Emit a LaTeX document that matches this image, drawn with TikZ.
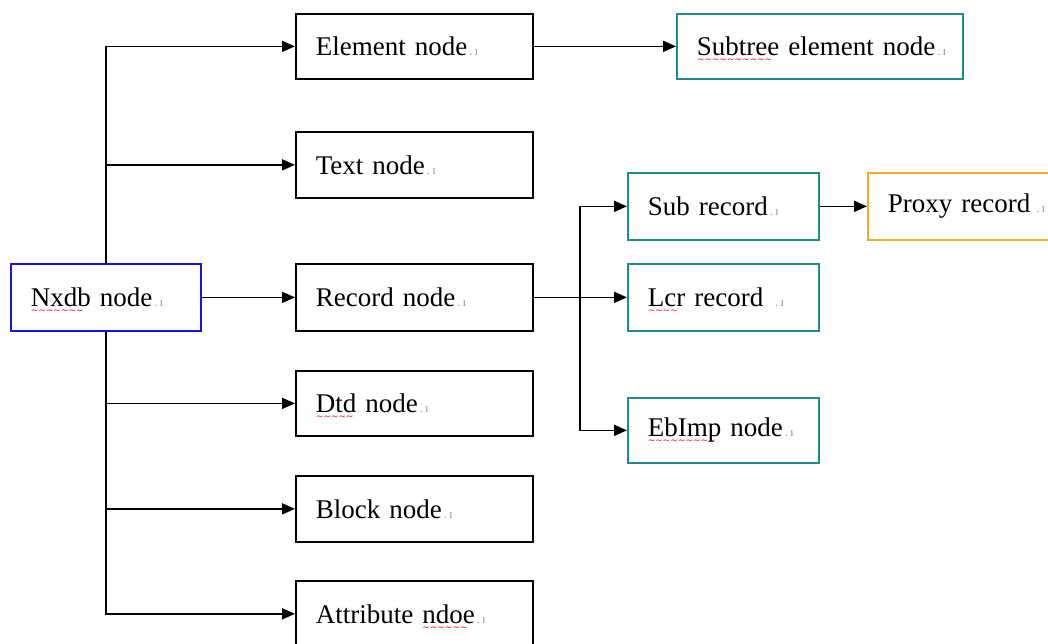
\documentclass[tikz,border=0pt]{standalone}
\usepackage{fontspec}
\setmainfont{Liberation Serif}
\newfontfamily\wavefont{DejaVu Sans}
\usetikzlibrary{arrows.meta}

\definecolor{nxblue}{RGB}{20,20,235}
\definecolor{subteal}{RGB}{30,140,140}
\definecolor{proxyorange}{RGB}{250,168,40}

\newcommand\labelfont{\fontsize{27}{32}\selectfont}
% pilcrow-like end-of-paragraph mark, kept out of the line width
\newcommand\parmk{\rlap{\hspace{2pt}{\color{gray!80}\fontsize{13}{13}\selectfont.\,\i}}}
% red wavy spell-check line under a word
\newcommand\spellw[1]{\setbox0\hbox{#1}%
  \rlap{\smash{\lower7pt\hbox to\wd0{\color{red}\leaders\hbox{\wavefont\fontsize{9}{9}\selectfont\char"223C}\hfil}}}%
  \box0\relax}

\tikzset{
  box/.style={draw, line width=1.7pt, rectangle, anchor=north west,
    inner xsep=20pt, inner ysep=0pt, align=left, font=\labelfont},
  conn/.style={draw, line width=1.7pt, -{Triangle[length=13pt,width=11pt]}}
}

\begin{document}
\begin{tikzpicture}[x=1pt,y=-1pt]
\useasboundingbox (0,0) rectangle (1048,643);

% root
\node[box, draw=nxblue, minimum width=190pt, text width=150pt, minimum height=67pt]
  (nx) at (10,263) {\spellw{Nxdb} node\parmk};

% first level
\node[box, minimum width=237pt, text width=197pt, minimum height=65pt]
  (el) at (295,13) {Element node\parmk};
\node[box, minimum width=237pt, text width=197pt, minimum height=66pt]
  (tx) at (295,131) {Text node\parmk};
\node[box, minimum width=237pt, text width=197pt, minimum height=67pt]
  (rec) at (295,263) {Record node\parmk};
\node[box, minimum width=237pt, text width=197pt, minimum height=65pt]
  (dtd) at (295,370) {\spellw{Dtd} node\parmk};
\node[box, minimum width=237pt, text width=197pt, minimum height=66pt]
  (blk) at (295,475) {Block node\parmk};
\node[box, minimum width=237pt, text width=197pt, minimum height=66pt]
  (att) at (295,580) {Attribute \spellw{ndoe}\parmk};

% second level
\node[box, draw=subteal, minimum width=286pt, text width=246pt, minimum height=65pt]
  (sub) at (676,13) {\spellw{Subtree} element node\parmk};
\node[box, draw=subteal, minimum width=191pt, text width=151pt, minimum height=67pt]
  (sr) at (627,172) {Sub record\parmk};
\node[box, draw=subteal, minimum width=191pt, text width=151pt, minimum height=67pt]
  (lcr) at (627,263) {\spellw{Lcr} record\hspace{10pt}\parmk};
\node[box, draw=subteal, minimum width=191pt, text width=151pt, minimum height=65pt]
  (eb) at (627,397) {\spellw{EbImp} node\parmk};

% third level
\node[box, draw=proxyorange, minimum width=230pt, text width=190pt, minimum height=67pt]
  (px) at (867,172) {Proxy record\hspace{4pt}\parmk};

% connectors from the root
\draw[conn] (nx.north) |- (el.west);
\draw[conn] (nx.north) |- (tx.west);
\draw[conn] (nx.east) -- (rec.west);
\draw[conn] (nx.south) |- (dtd.west);
\draw[conn] (nx.south) |- (blk.west);
\draw[conn] (nx.south) |- (att.west);

\draw[conn] (el.east) -- (sub.west);

% record branches
\coordinate (rb) at (580,296.5);
\draw[conn] (rec.east) -- (lcr.west);
\draw[conn] (rb) |- (sr.west);
\draw[conn] (rb) |- (eb.west);

\draw[conn] (sr.east) -- (px.west);
\end{tikzpicture}
\end{document}
